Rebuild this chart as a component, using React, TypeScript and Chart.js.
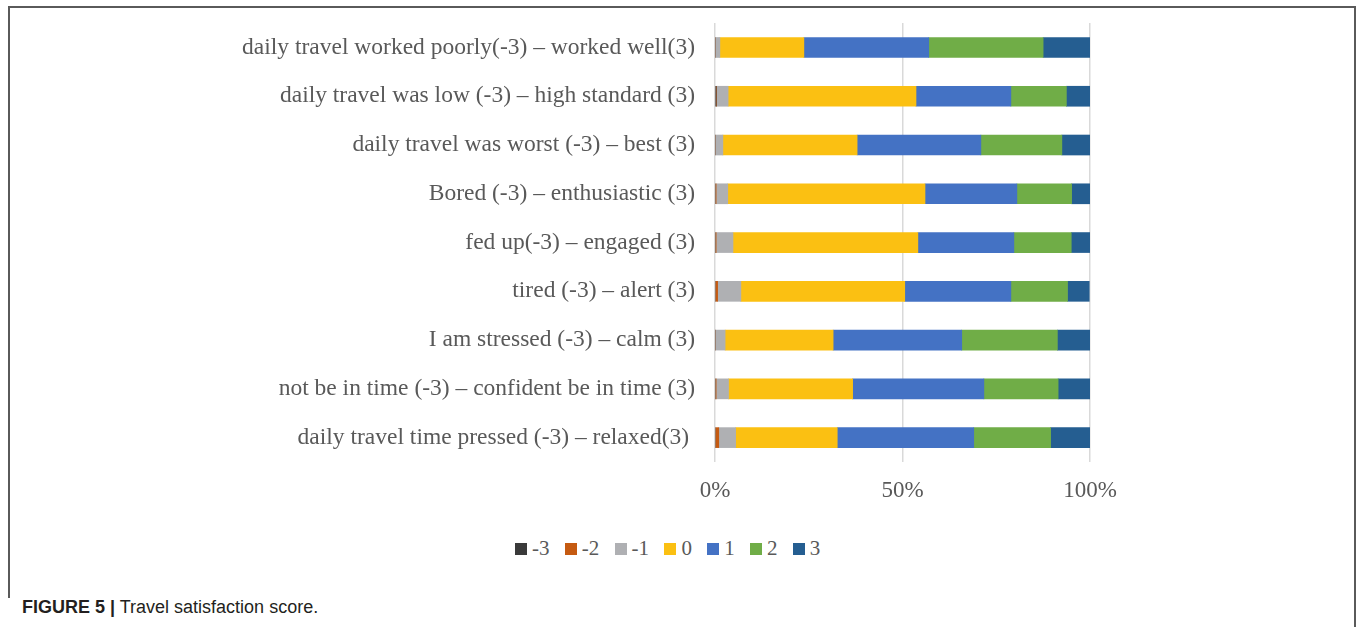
import React, { useEffect, useRef } from "react";
import { Chart, registerables } from "chart.js";

Chart.register(...registerables);

const categories = [
  "daily travel worked poorly(-3) – worked well(3)",
  "daily travel was low (-3) – high standard (3)",
  "daily travel was worst (-3) – best (3)",
  "Bored (-3) – enthusiastic (3)",
  "fed up(-3) – engaged (3)",
  "tired (-3) – alert (3)",
  "I am stressed (-3) – calm (3)",
  "not be in time (-3) – confident be in time (3)",
  "daily travel time pressed (-3) – relaxed(3) ",
];

const seriesNames = ["-3", "-2", "-1", "0", "1", "2", "3"];
const seriesColors = ["#3a3a3a", "#C55A11", "#AFB0B3", "#FBC012", "#4472C4", "#70AD47", "#255E91"];

const scoreMinus3 = [0, 0.3, 0, 0, 0, 0, 0, 0, 0];
const scoreMinus2 = [0, 0.1, 0, 0.3, 0.3, 0.7, 0, 0.3, 1.0];
const scoreMinus1 = [1.3, 3.1, 2.1, 3.1, 4.5, 6.2, 2.7, 3.3, 4.5];
const score0 = [22.4, 50.1, 35.8, 52.6, 49.3, 43.7, 28.8, 33.1, 27.1];
const score1 = [33.3, 25.3, 33.0, 24.5, 25.6, 28.3, 34.3, 35.0, 36.4];
const score2 = [30.5, 14.8, 21.6, 14.6, 15.3, 15.1, 25.5, 19.8, 20.5];
const score3 = [12.5, 6.3, 7.5, 4.9, 5.0, 5.8, 8.7, 8.5, 10.5];

const seriesValues = [scoreMinus3, scoreMinus2, scoreMinus1, score0, score1, score2, score3];

const xTickValues = [0, 50, 100];

const TEXT = "#595959";
const SERIF = "'Liberation Serif', 'Times New Roman', serif";

export default function App() {
  const canvasRef = useRef<HTMLCanvasElement | null>(null);

  useEffect(() => {
    if (!canvasRef.current) return;
    const chart = new Chart(canvasRef.current, {
      type: "bar",
      data: {
        labels: categories,
        datasets: seriesNames.map((name, i) => ({
          label: name,
          data: seriesValues[i],
          backgroundColor: seriesColors[i],
          borderWidth: 0,
          barThickness: 20,
        })),
      },
      options: {
        indexAxis: "y",
        responsive: false,
        animation: false,
        devicePixelRatio: 1,
        layout: { padding: { top: 0, right: 267, bottom: 0, left: 0 } },
        plugins: {
          legend: { display: false },
          tooltip: { enabled: false },
        },
        scales: {
          x: {
            stacked: true,
            min: 0,
            max: 100,
            grid: { color: "#d9d9d9", lineWidth: 1.5, drawTicks: false },
            border: { display: false },
            afterBuildTicks: (scale: any) => {
              scale.ticks = xTickValues.map((v) => ({ value: v }));
            },
            afterFit: (scale: any) => {
              scale.height = 40;
            },
            ticks: {
              padding: 15,
              color: TEXT,
              font: { family: SERIF, size: 23 },
              callback: (v: any) => `${v}%`,
            },
          },
          y: {
            stacked: true,
            grid: { display: false, drawTicks: false },
            border: { display: false },
            afterFit: (scale: any) => {
              scale.width = 715;
            },
            ticks: {
              padding: 20,
              color: TEXT,
              font: { family: SERIF, size: 23.5 },
            },
          },
        },
      },
    });
    return () => chart.destroy();
  }, []);

  return (
    <div
      style={{
        position: "fixed",
        left: 0,
        top: 0,
        width: 1357,
        height: 627,
        overflow: "hidden",
        background: "#fff",
      }}
    >
      <div
        style={{
          position: "absolute",
          left: 8,
          top: 6,
          width: 1344,
          height: 660,
          borderTop: "2px solid #5a5a5a",
          borderLeft: "2px solid #5a5a5a",
          borderRight: "2px solid #5a5a5a",
        }}
      />
      <div
        style={{
          position: "absolute",
          left: 5,
          top: 598,
          width: 8,
          height: 40,
          background: "#fff",
        }}
      />
      <canvas
        ref={canvasRef}
        width={1357}
        height={513}
        style={{ position: "absolute", left: 0, top: -11, display: "block" }}
      />
      <div
        style={{
          position: "absolute",
          left: 515,
          top: 538,
          display: "flex",
          alignItems: "center",
          fontFamily: SERIF,
          fontSize: 21,
          lineHeight: 1,
          color: TEXT,
          whiteSpace: "nowrap",
        }}
      >
        {seriesNames.map((name, i) => (
          <div key={name} style={{ display: "flex", alignItems: "center", marginRight: 15.3 }}>
            <span
              style={{
                display: "inline-block",
                width: 12,
                height: 12,
                background: seriesColors[i],
                marginRight: 5,
              }}
            />
            <span>{name}</span>
          </div>
        ))}
      </div>
      <div
        style={{
          position: "absolute",
          left: 22,
          top: 598,
          fontFamily: "'Liberation Sans', Arial, Helvetica, sans-serif",
          fontSize: 18,
          lineHeight: 1,
          color: "#231f20",
          whiteSpace: "nowrap",
        }}
      >
        <span style={{ fontWeight: 700 }}>FIGURE 5 |</span> Travel satisfaction score.
      </div>
    </div>
  );
}
